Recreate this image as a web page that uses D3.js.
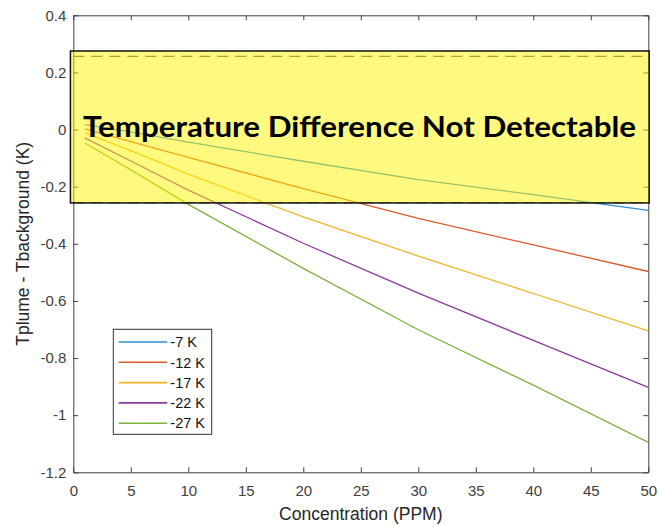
<!DOCTYPE html>
<html>
<head>
<meta charset="utf-8">
<style>
    body { margin: 0; background: white; }
    svg { display: block; font-family: 'Liberation Sans', Arial, sans-serif; }
    .axis text { font-size: 15px; fill: #404040; }
    .axis path, .axis line { stroke: #404040; }
</style>
</head>
<body>
<svg width="659" height="526"></svg>

<script src="https://d3js.org/d3.v7.min.js"></script>
<script>
    // concentrations (PPM)
    let conc = [1, 5, 10, 20, 30, 40, 50]

    // Tplume - Tbackground (K) for each plume temperature
    let dT7  = [0.017, -0.008, -0.044, -0.111, -0.175, -0.228, -0.283]
    let dT12 = [0.002, -0.042, -0.097, -0.207, -0.311, -0.404, -0.497]
    let dT17 = [-0.012, -0.074, -0.156, -0.306, -0.443, -0.574, -0.705]
    let dT22 = [-0.029, -0.110, -0.212, -0.398, -0.573, -0.738, -0.903]
    let dT27 = [-0.047, -0.141, -0.262, -0.486, -0.701, -0.895, -1.095]

    let seriesNames = ["-7 K", "-12 K", "-17 K", "-22 K", "-27 K"]
    let seriesValues = [dT7, dT12, dT17, dT22, dT27]
    let colors = ["#2f8fd2", "#dd5a2c", "#efb428", "#8a3c9c", "#7eb23a"]

    let xTicks = [0, 5, 10, 15, 20, 25, 30, 35, 40, 45, 50]
    let yTicks = [-1.2, -1, -0.8, -0.6, -0.4, -0.2, 0, 0.2, 0.4]
    let yTickLabels = ["-1.2", "-1", "-0.8", "-0.6", "-0.4", "-0.2", "0", "0.2", "0.4"]

    // detection limit (dashed lines) and the highlighted box
    let detectLimit = 0.256
    let boxTop = 0.275, boxBottom = -0.257, boxLeft = -0.25, boxRight = 50.08

    let svg = d3.select("svg")
    let margin = {top: 15.3, right: 10.7, bottom: 53.7, left: 73.3}
    let width = 659, height = 526

    let x = d3.scaleLinear().domain([0, 50]).range([margin.left, width - margin.right])
    let y = d3.scaleLinear().domain([-1.2, 0.4]).range([height - margin.bottom, margin.top])

    // lines
    let line = d3.line()
        .x((d, i) => x(conc[i]))
        .y(d => y(d))

    // dashed detection limits
    svg.append("g")
        .selectAll("line")
        .data([detectLimit, -detectLimit])
        .join("line")
        .attr("x1", x(0))
        .attr("x2", x(50))
        .attr("y1", d => y(d))
        .attr("y2", d => y(d))
        .attr("stroke", "#555")
        .attr("stroke-width", 1.3)
        .attr("stroke-dasharray", "11,7")

    svg.append("g")
        .selectAll("path")
        .data(seriesValues)
        .join("path")
        .attr("d", line)
        .attr("fill", "none")
        .attr("stroke", (d, i) => colors[i])
        .attr("stroke-width", 1.3)

    // axes (MATLAB style, ticks inward, box on)
    svg.append("g")
        .attr("class", "axis")
        .attr("transform", `translate(0,${y(-1.2)})`)
        .call(d3.axisBottom(x).tickValues(xTicks).tickSize(-5).tickPadding(13).tickSizeOuter(0))

    svg.append("g")
        .attr("class", "axis")
        .attr("transform", `translate(0,${y(0.4)})`)
        .call(d3.axisTop(x).tickValues(xTicks).tickSize(-5).tickFormat("").tickSizeOuter(0))

    svg.append("g")
        .attr("class", "axis")
        .attr("transform", `translate(${x(0)},0)`)
        .call(d3.axisLeft(y).tickValues(yTicks).tickSize(-5).tickPadding(7).tickSizeOuter(0)
            .tickFormat((d, i) => yTickLabels[i]))

    svg.append("g")
        .attr("class", "axis")
        .attr("transform", `translate(${x(50)},0)`)
        .call(d3.axisRight(y).tickValues(yTicks).tickSize(-5).tickFormat("").tickSizeOuter(0))

    // axis labels
    svg.append("text")
        .attr("x", (x(0) + x(50)) / 2)
        .attr("y", 520)
        .attr("text-anchor", "middle")
        .style("font-size", "17.5px")
        .style("fill", "#262626")
        .text("Concentration (PPM)")

    svg.append("text")
        .attr("transform", `translate(28.5,${(y(0.4) + y(-1.2)) / 2}) rotate(-90)`)
        .attr("text-anchor", "middle")
        .style("font-size", "17.5px")
        .style("fill", "#262626")
        .text("Tplume - Tbackground (K)")

    // translucent yellow box on top of the lines
    svg.append("rect")
        .attr("x", x(boxLeft))
        .attr("y", y(boxTop))
        .attr("width", x(boxRight) - x(boxLeft))
        .attr("height", y(boxBottom) - y(boxTop))
        .attr("fill", "#fff500")
        .attr("fill-opacity", 0.5)
        .attr("stroke", "#111")
        .attr("stroke-width", 1.5)

    svg.append("text")
        .attr("x", 83)
        .attr("y", 137)
        .attr("textLength", 553)
        .attr("lengthAdjust", "spacingAndGlyphs")
        .style("font-family", "Lato, 'Open Sans', sans-serif")
        .style("font-weight", "bold")
        .style("font-size", "28px")
        .style("fill", "#000")
        .text("Temperature Difference Not Detectable")

    // legend
    let legend = svg.append("g").attr("transform", "translate(113.3,329.3)")
    legend.append("rect")
        .attr("width", 98.4)
        .attr("height", 105)
        .attr("fill", "white")
        .attr("stroke", "#333")
        .attr("stroke-width", 1)

    let items = legend.selectAll(".item")
        .data(seriesNames)
        .join("g")
        .attr("class", "item")
        .attr("transform", (d, i) => `translate(0,${12.7 + i * 20.3})`)

    items.append("line")
        .attr("x1", 5.4)
        .attr("x2", 54)
        .attr("stroke", (d, i) => colors[i])
        .attr("stroke-width", 1.6)

    items.append("text")
        .attr("x", 57)
        .attr("dy", "0.36em")
        .style("font-size", "14.5px")
        .style("fill", "#111")
        .text(d => d)
</script>
</body>
</html>
